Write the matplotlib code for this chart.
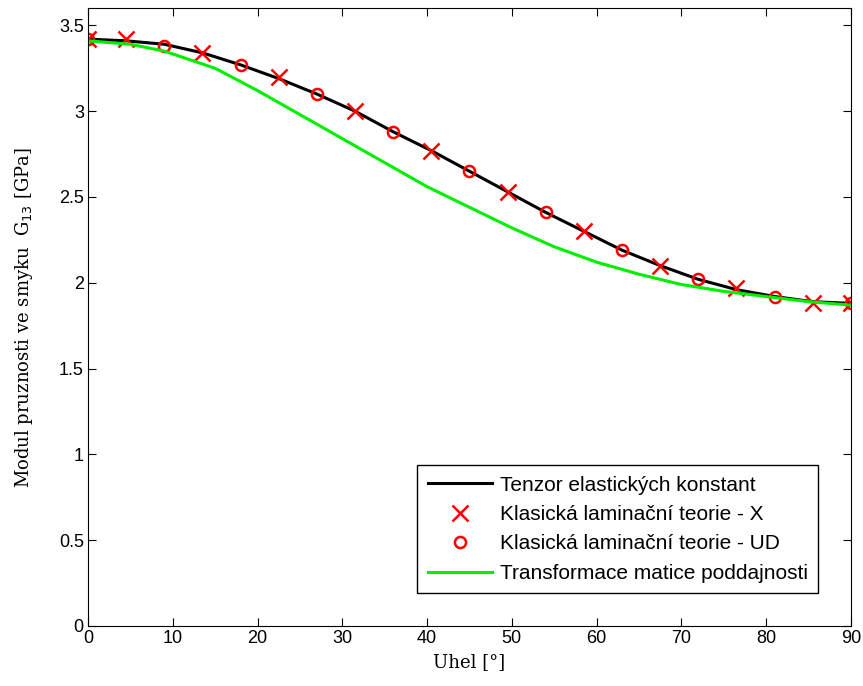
import numpy as np
import matplotlib
matplotlib.use("Agg")
from matplotlib import pyplot as plt

# angles [deg]
uhel_x = [0, 4.5, 13.5, 22.5, 31.5, 40.5, 49.5, 58.5, 67.5, 76.5, 85.5, 90]
g13_x = [3.42, 3.42, 3.34, 3.20, 3.00, 2.77, 2.53, 2.30, 2.10, 1.97, 1.88, 1.88]

uhel_ud = [0, 9, 18, 27, 36, 45, 54, 63, 72, 81, 90]
g13_ud = [3.42, 3.38, 3.27, 3.10, 2.88, 2.65, 2.41, 2.19, 2.02, 1.92, 1.88]

uhel_t = [0, 4.5, 9, 13.5, 18, 22.5, 27, 31.5, 36, 40.5, 45, 49.5, 54, 58.5,
          63, 67.5, 72, 76.5, 81, 85.5, 90]
g13_t = [3.42, 3.41, 3.39, 3.34, 3.27, 3.19, 3.10, 3.00, 2.88, 2.77, 2.65, 2.53,
         2.41, 2.30, 2.19, 2.10, 2.02, 1.96, 1.92, 1.89, 1.88]

uhel_s = [0, 5, 9, 15, 20, 25, 30, 35, 40, 45, 50, 55, 60, 65, 70, 75, 80, 85, 90]
g13_s = [3.41, 3.39, 3.35, 3.25, 3.12, 2.98, 2.84, 2.70, 2.56, 2.44, 2.32, 2.21,
         2.12, 2.05, 1.99, 1.95, 1.92, 1.89, 1.87]

fig = plt.figure(figsize=(8.63, 6.86), dpi=100)
ax = fig.add_axes([0.102, 0.0875, 0.884, 0.9005])

ax.plot(uhel_t, g13_t, color='black', lw=2.2, label='Tenzor elastických konstant')
ax.plot(uhel_x, g13_x, 'x', color='red', ms=11, mew=1.8, label='Klasická laminační teorie - X')
ax.plot(uhel_ud, g13_ud, 'o', color='red', ms=8, mew=1.8, mfc='none', label='Klasická laminační teorie - UD')
ax.plot(uhel_s, g13_s, color='#00ee00', lw=2.2, label='Transformace matice poddajnosti')

ax.set_xlim(0, 90)
ax.set_ylim(0, 3.6)
ax.set_xticks(np.arange(0, 91, 10))
ax.set_yticks(np.arange(0, 3.51, 0.5))
ax.set_yticklabels(['0', '0.5', '1', '1.5', '2', '2.5', '3', '3.5'])
ax.tick_params(direction='in', top=True, right=True, length=6, labelsize=13, pad=3)
for lab in ax.get_xticklabels() + ax.get_yticklabels():
    lab.set_family('Liberation Sans')

ax.set_xlabel('Uhel [°]', family='DejaVu Serif', fontsize=13, labelpad=4)
ax.set_ylabel('Modul pruznosti ve smyku  G$_{13}$ [GPa]', family='DejaVu Serif', fontsize=13, labelpad=17)

leg = ax.legend(loc='lower right', bbox_to_anchor=(0.957, 0.053), fancybox=False,
                edgecolor='black', framealpha=1, handlelength=3.1, handletextpad=0.35,
                prop={'family': 'Liberation Sans', 'size': 15}, borderpad=0.5,
                labelspacing=0.5, borderaxespad=0)
leg.get_frame().set_linewidth(1.0)

fig.savefig('out.png', dpi=100)
